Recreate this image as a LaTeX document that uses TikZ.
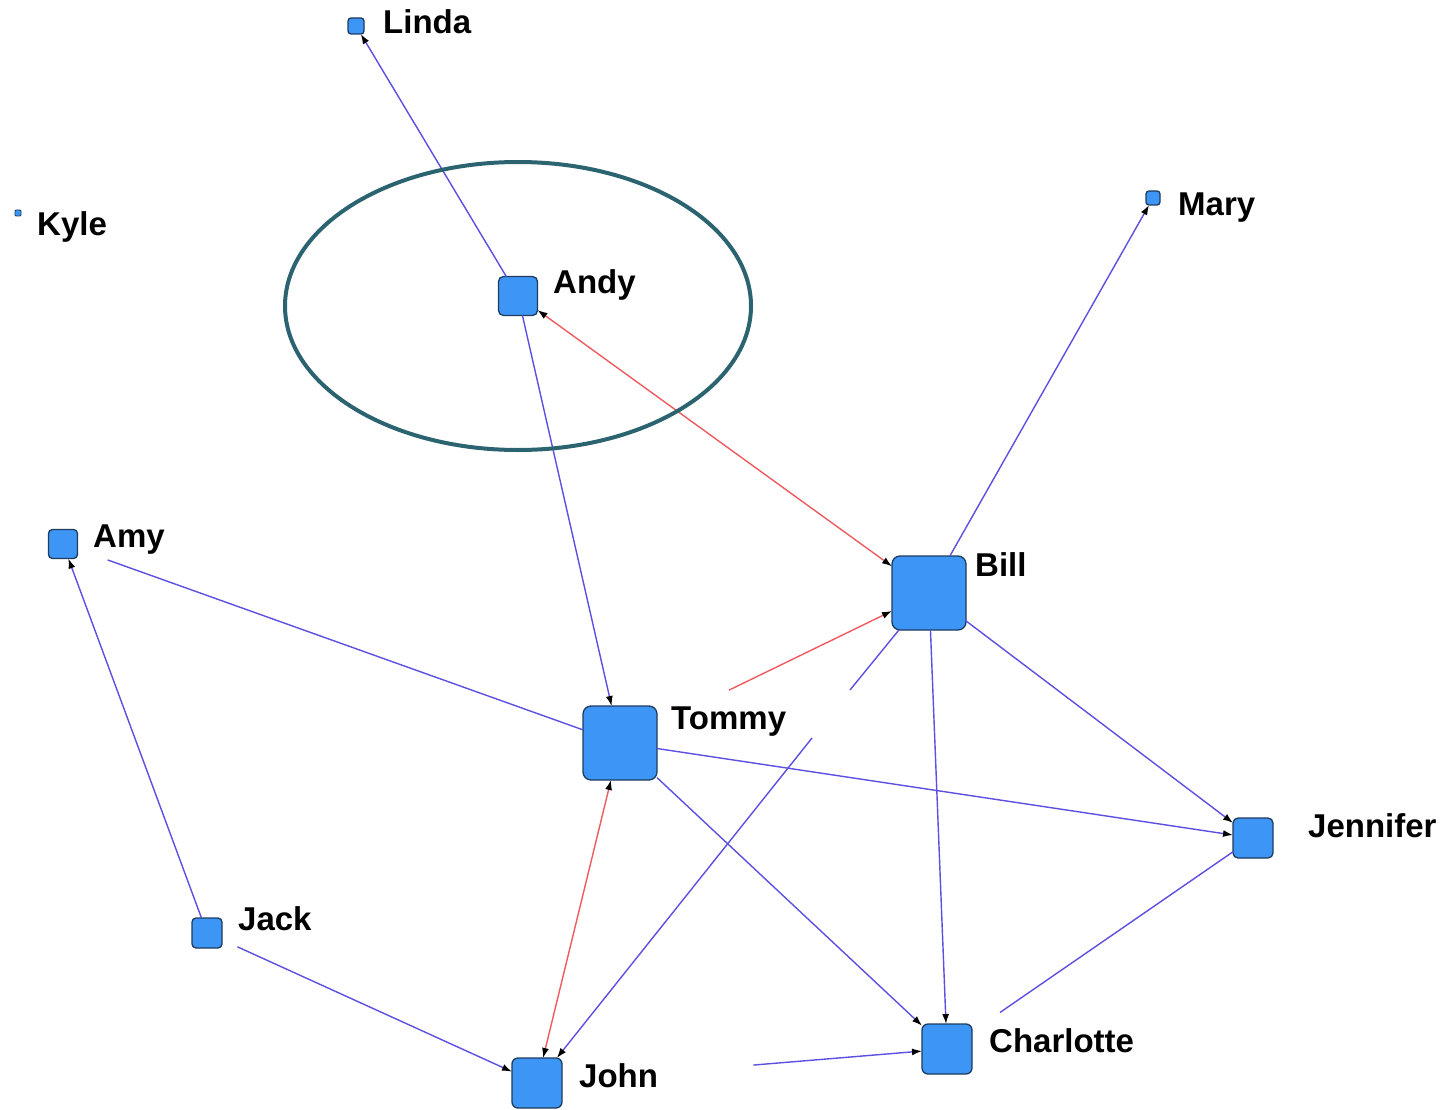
\documentclass[tikz,border=0pt]{standalone}
\usepackage{fontspec}
\setmainfont{Liberation Sans}
\usetikzlibrary{arrows.meta}
\definecolor{nodefill}{HTML}{3D95F5}
\definecolor{nodeedge}{HTML}{1E3C5E}
\definecolor{tieblue}{HTML}{5B50E0}
\definecolor{tiered}{HTML}{EE5A5F}
\definecolor{ringteal}{HTML}{2B6470}
\begin{document}
\begin{tikzpicture}[x=1pt,y=-1pt,
  actor/.style={draw=nodeedge, fill=nodefill, line width=1.3pt, rectangle,
    inner sep=0pt, outer sep=0pt},
  name label/.style={anchor=base west, inner sep=0pt, font=\bfseries\fontsize{33}{40}\selectfont},
  tie/.style={draw=tieblue, line width=1.4pt},
  redtie/.style={draw=tiered, line width=1.4pt},
  pointed/.style={-{Latex[length=10pt,width=7pt,color=black]}},
  bothpointed/.style={{Latex[length=10pt,width=7pt,color=black]}-{Latex[length=10pt,width=7pt,color=black]}}
]
\useasboundingbox (0,0) rectangle (1456,1110);

% actors
\node[actor, minimum size=16pt, rounded corners=3pt] (linda) at (356,26) {};
\node[actor, minimum size=6pt, rounded corners=1pt, line width=0.8pt] (kyle) at (18,213) {};
\node[actor, minimum size=14pt, rounded corners=3pt] (mary) at (1153,198) {};
\node[actor, minimum size=39pt, rounded corners=5pt] (andy) at (518,296) {};
\node[actor, minimum size=29pt, rounded corners=4pt] (amy) at (63,544) {};
\node[actor, minimum size=74pt, rounded corners=8pt] (bill) at (929,593) {};
\node[actor, minimum size=74pt, rounded corners=8pt] (tommy) at (620,743) {};
\node[actor, minimum size=40pt, rounded corners=5pt] (jennifer) at (1253,838) {};
\node[actor, minimum size=30pt, rounded corners=4pt] (jack) at (207,933) {};
\node[actor, minimum size=50pt, rounded corners=6pt] (charlotte) at (947,1049) {};
\node[actor, minimum size=50pt, rounded corners=6pt] (john) at (537,1083) {};

% names
\node[name label] (linda-name) at (383,34) {Linda};
\node[name label] (kyle-name) at (37,235) {Kyle};
\node[name label] (mary-name) at (1178,215) {Mary};
\node[name label] (andy-name) at (553,293) {Andy};
\node[name label] (amy-name) at (93,547) {Amy};
\node[name label] (bill-name) at (975,576) {Bill};
\node[name label] (tommy-name) at (671,729) {Tommy};
\node[name label] (jennifer-name) at (1308,837) {Jennifer};
\node[name label] (jack-name) at (238,930) {Jack};
\node[name label] (charlotte-name) at (989,1052) {Charlotte};
\node[name label] (john-name) at (579,1087) {John};

% the interrupted Bill--John tie
\coordinate (bj-a) at (850,690);
\coordinate (bj-b) at (812,738);

% ties
\draw[tie, pointed] (andy) -- (linda);
\draw[tie, pointed] (andy) -- (tommy);
\draw[redtie, bothpointed] (bill) -- (andy);
\draw[tie, pointed] (bill) -- (mary);
\draw[redtie, pointed, shorten <=80pt] (tommy) -- (bill);
\draw[tie] (bill) -- (bj-a);
\draw[tie, pointed] (bj-b) -- (john);
\draw[tie, pointed] (bill) -- (charlotte);
\draw[tie, pointed] (bill) -- (jennifer);
\draw[tie, shorten >=32pt] (tommy) -- (amy);
\draw[tie, pointed] (jack) -- (amy);
\draw[tie, pointed, shorten <=17pt] (jack) -- (john);
\draw[redtie, bothpointed] (tommy) -- (john);
\draw[tie, pointed] (tommy) -- (jennifer);
\draw[tie, pointed] (tommy) -- (charlotte);
\draw[tie, shorten >=34pt] (jennifer) -- (charlotte);
\draw[tie, pointed, shorten <=192pt] (john) -- (charlotte);

% highlight ring round Andy
\draw[ringteal, line width=4pt] (518,306) ellipse [x radius=233, y radius=144];
\end{tikzpicture}
\end{document}
